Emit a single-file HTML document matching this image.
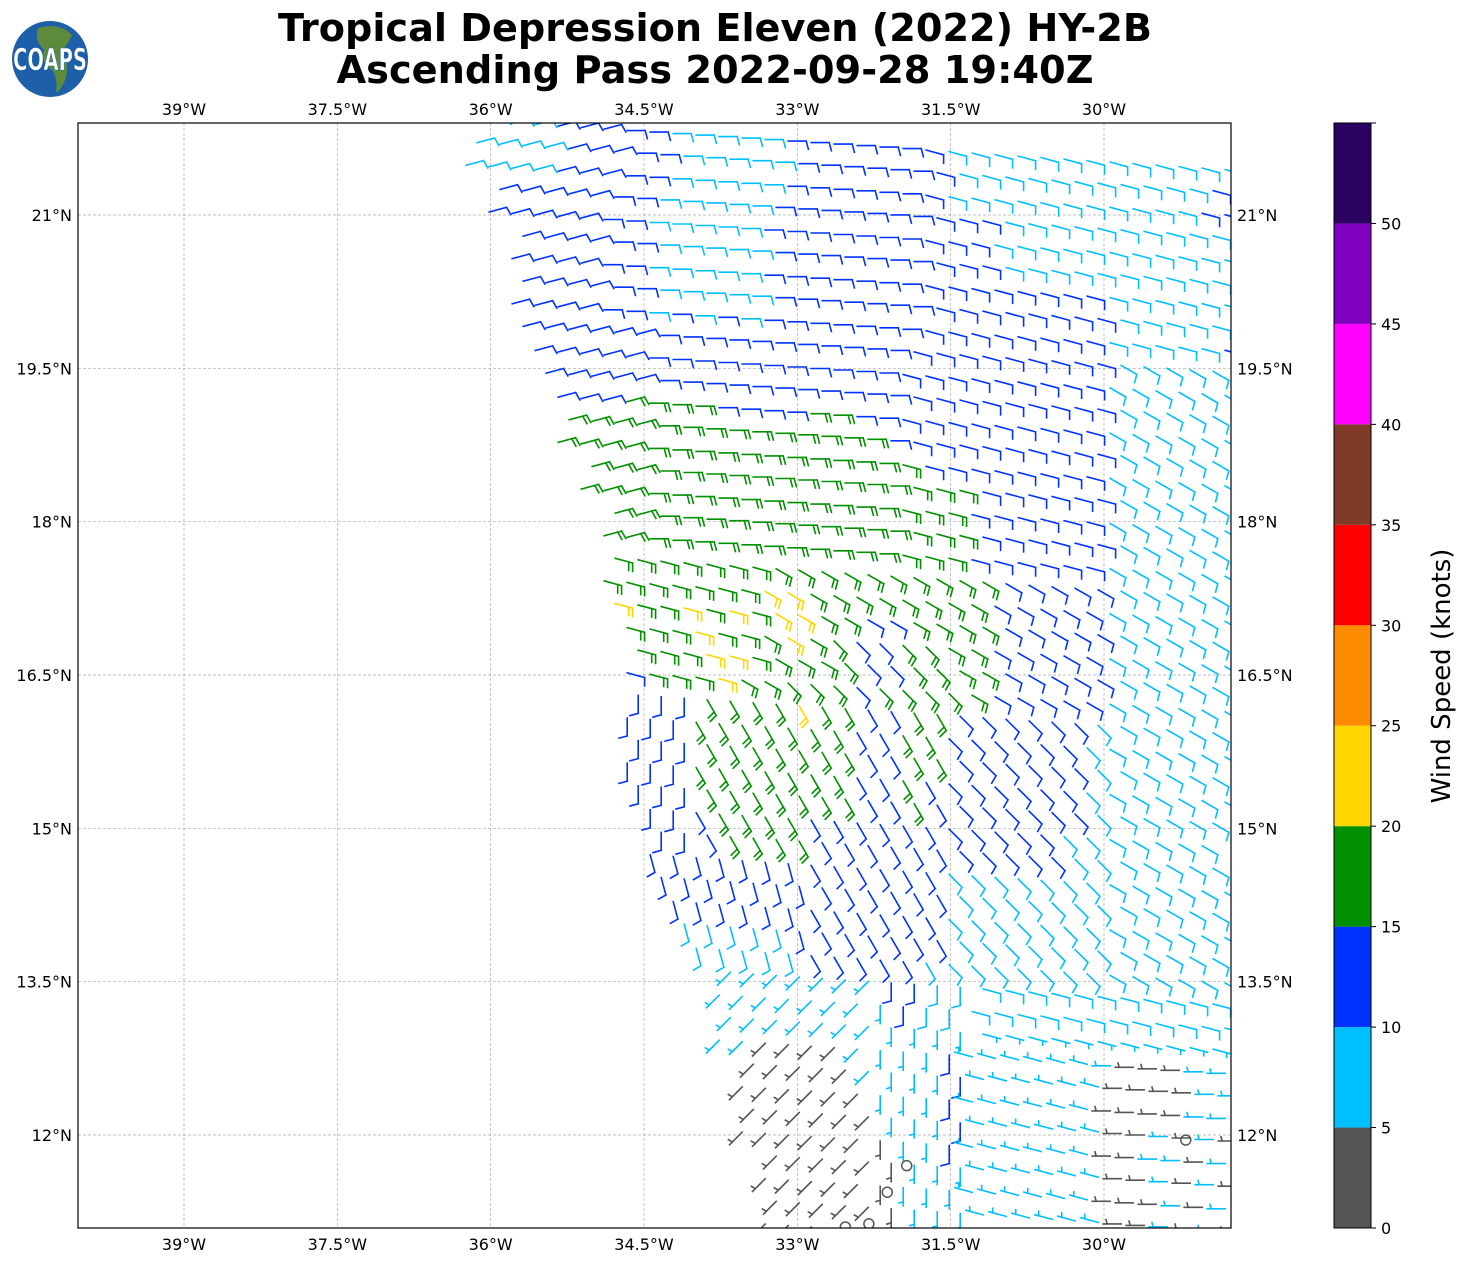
<!DOCTYPE html>
<html><head><meta charset="utf-8"><style>
html,body{margin:0;padding:0;background:#fff;}
svg{display:block;font-family:"DejaVu Sans","Liberation Sans",sans-serif;}
</style></head><body>
<svg id="chart" width="1471" height="1264" viewBox="0 0 1471 1264">
<defs><clipPath id="plotclip"><rect x="78" y="123" width="1153" height="1105"/></clipPath></defs>
<g>
<circle cx="50" cy="59" r="38" fill="#1d5fa8"/>
<path d="M38 28 Q60 22 72 35 Q66 48 60 52 Q70 62 66 78 Q60 92 56 92 Q58 78 52 70 Q40 62 44 50 Q34 40 38 28Z" fill="#5e8a3c"/>
<text x="50" y="70" text-anchor="middle" font-size="30" font-weight="bold" fill="#fff" stroke="#1d5fa8" stroke-width="0.6" textLength="74" lengthAdjust="spacingAndGlyphs">COAPS</text>
</g>
<text x="715" y="41" text-anchor="middle" font-size="38" font-weight="bold" textLength="874" lengthAdjust="spacingAndGlyphs">Tropical Depression Eleven (2022) HY-2B</text>
<text x="715" y="83" text-anchor="middle" font-size="38" font-weight="bold" textLength="757" lengthAdjust="spacingAndGlyphs">Ascending Pass 2022-09-28 19:40Z</text>
<g id="grid"></g>
<g id="barbs" clip-path="url(#plotclip)"></g>
<rect x="78" y="123" width="1153" height="1105" fill="none" stroke="#000" stroke-width="1.2"/>
<g id="cbar"></g>
<text transform="translate(1450,676) rotate(-90)" text-anchor="middle" font-size="26">Wind Speed (knots)</text>
</svg>
<script>
const lonTicks = [-39, -37.5, -36, -34.5, -33, -31.5, -30];
const lonLabels = ["39°W","37.5°W","36°W","34.5°W","33°W","31.5°W","30°W"];
const latTicks = [21, 19.5, 18, 16.5, 15, 13.5, 12];
const latLabels = ["21°N","19.5°N","18°N","16.5°N","15°N","13.5°N","12°N"];
const cbarBounds = [0,5,10,15,20,25,30,35,40,45,50,55];
const cbarColors = ["#555555","#00bfff","#0033ff","#009000","#ffd700","#ff8c00","#ff0000","#7f3a28","#ff00ff","#8000c0","#2a0060"];
const cbarTicks = [0,5,10,15,20,25,30,35,40,45,50];
const gridLonStart = -36.2, gridLonStep = 0.225;
const gridLatStart = 21.85, gridLatStep = 0.221;
const speedByChar = {"0":3,"5":6,"1":9,"2":12,"3":18,"4":22};
const speedRows = [
"1111222221111122222221111111111111",
"1111222221111122222221111111111122",
"1111222221111122222221111111111122",
".222222211111222222222211111111111",
".222222211111222222222211111111111",
"..22222211111222222222211111111111",
"..22222211111222222222222222111111",
"..22222211111222222222222222111111",
"..22222212121222222222222222111112",
"..22222222222222222222222222111111",
"...2222222222222222222222222111111",
"...2222222222222222222222222111111",
"....222333322223322222222222111111",
"....333333333333332222222222111111",
"....333333333333333322222222111111",
".....33333333333333333222222111111",
".....33333333333333333222222111111",
"......3333333333333333222222111111",
"......3333333333333333222222111111",
"......3333333333333333322222111111",
"......3333333443333333322222111111",
"......4334343443322333322222111111",
".......333433343322333322222111111",
".......333443333322333322222111111",
".......233343333323333322222111111",
".......222333343322332222221111111",
".......222333333322332222221111111",
".......222333333322332222221111111",
".......222333333322322222221111111",
".......222333333322322222221111111",
"........2223333222222222221111111",
"........22233332222222222211111111",
"........22222222222221111111111111",
"........22222222222221111111111111",
".........2222222222221111111111111",
".........1111122222221111111111111",
"..........111112222211111111111111",
"...........555555522111111111111111",
"...........555555552111111111111111",
"...........55555555555555555555555",
"...........55000055552555555500055",
"............0000055552555555000055",
"............0000005552555555000055",
"............0000005552555555005050",
"............0000000552555555005505",
".............000000555555555005050",
".............000000555555555000505",
".............000000555555555005050",
".............000000555555555000505"
];
const dirRows = [
"xxxxxxxaaaaaaaaaaaaabbbbbbbbbbbbbb",
"xxxxxxxaaaaaaaaaaaaabbbbbbbbbbbbbb",
"xxxxxxxaaaaaaaaaaaaabbbbbbbbbbbbbb",
"xxxxxxaaaaaaaaaaaaaabbbbbbbbbbbbbb",
"xxxxxxaaaaaaaaaaaaaabbbbbbbbbbbbbb",
"xxxxxxaaaaaaaaaaaaaabbbbbbbbbbbbbb",
"xxxxxxaaaaaaaaaaaaaabbbbbbbbbbbbbb",
"xxxxxxaaaaaaaaaaaaaabbbbbbbbbbbbbb",
"xxxxxxaaaaaaaaaaaaaabbbbbbbbbbbbbb",
"xxxxxxxxaaaaaaaaaaabbbbbbbbbcccccc",
"xxxxxxxxaaaaaaaaaaabbbbbbbbbcccccc",
"xxxxxxxxaaaaaaaaaaabbbbbbbbbcccccc",
"xxxxxxxxaaaaaaaaaaabbbbbbbbbcccccc",
"xxxxxxxxaaaaaaaaaaabbbbbbbbbcccccc",
"xxxxxxxxaaaaaaaaaaabbbbbbbbbcccccc",
"xxxxxxxxaaaaaaaaaaabbbbbbbbbcccccc",
"xxxxxxxxaaaaaaaaaaabbbbbbbbbcccccc",
"xxxxxxxxaaaaaaaaaaabbbbbbbbbcccccc",
"xxxxxxxxaaaaaaaaaaabbbbbbbbbcccccc",
"bbbbbbbbbbbbbccccccccccccccccccccc",
"bbbbbbbbbbbbbccccccccccccccccccccc",
"bbbbbbbbbbbbbccccccccccccccccccccc",
"bbbbbbbbbbbbbcccdddddccccccccccccc",
"bbbbbbbbbbbbbcccdddddccccccccccccc",
"bbbbbbbbbbbbccddddddddcccccccccccc",
"ggggggggggeeeeeeeeeeedddddddcccccc",
"ggggggggggeeeeeeeeeeedddddddcccccc",
"ggggggggggeeeeeeeeeeedddddddcccccc",
"ggggggggggeeeeeeeeeeedddddddcccccc",
"ggggggggggeeeeeeeeeeedddddddcccccc",
"ggggggggggeeeeeeeeeeedddddddcccccc",
"ggggggggggeeeeeeeeeeedddddddcccccc",
"fffffffffffffffeeeeeedddddddcccccc",
"fffffffffffffffeeeeeedddddddcccccc",
"fffffffffffffffeeeeeedddddddcccccc",
"fffffffffffffffeeeeeedddddddcccccc",
"fffffffffffffffeeeeeedddddddcccccc",
"jjjjjjjjjjjjjjjjjjggggbbbbbbbbbbbb",
"jjjjjjjjjjjjjjjjjjggggbbbbbbbbbbbb",
"jjjjjjjjjjjjjjjjjjggggbbbbbbbbbbbb",
"jjjjjjjjjjjjjjjjjjggggnnnnnnmmmmmm",
"jjjjjjjjjjjjjjjjjjggggnnnnnnmmmmmm",
"jjjjjjjjjjjjjjjjjjggggnnnnnnmmmmmm",
"jjjjjjjjjjjjjjjjjjggggnnnnnnmmmmmm",
"jjjjjjjjjjjjjjjjjjggggnnnnnnmmmmmm",
"jjjjjjjjjjjjjjjjjjggggnnnnnnmmmmmm",
"jjjjjjjjjjjjjjjjjjggggnnnnnnmmmmmm",
"jjjjjjjjjjjjjjjjjjggggnnnnnnmmmmmm",
"jjjjjjjjjjjjjjjjjjggggnnnnnnmmmmmm"
];
const calmLons = [-31.93, -32.12, -32.3, -32.53, -29.2];
const calmLats = [11.7, 11.44, 11.13, 11.1, 11.95];

const NS = "http://www.w3.org/2000/svg";
function xOf(lon){ return 184 + (lon + 39) * (920/9); }
function yOf(lat){ return 1135 - (lat - 12) * (920/9); }
function sy(v){ return 1228 - (v - cbarBounds[0]) / (cbarBounds[cbarBounds.length-1] - cbarBounds[0]) * 1105; }
function colorFor(s){ for (let i=0;i<cbarColors.length;i++){ if (s < cbarBounds[i+1]) return cbarColors[i]; } return cbarColors[cbarColors.length-1]; }
function mk(tag, attrs){ const e=document.createElementNS(NS,tag); for (const k in attrs) e.setAttribute(k, attrs[k]); return e; }

const gridG = document.getElementById("grid");
lonTicks.forEach((lon,i)=>{
  const x = xOf(lon);
  const l = mk("line",{x1:x,y1:123,x2:x,y2:1228,stroke:"#aaa","stroke-width":0.7,"stroke-dasharray":"3,2"});
  
  
  gridG.appendChild(l);
  [115,1250].forEach(yy=>{
    const t = mk("text",{x:x,y:yy,"text-anchor":"middle","font-size":16});
    t.textContent = lonLabels[i];
    
    
    gridG.appendChild(t);
  });
});
latTicks.forEach((lat,i)=>{
  const y = yOf(lat);
  const l = mk("line",{x1:78,y1:y,x2:1231,y2:y,stroke:"#aaa","stroke-width":0.7,"stroke-dasharray":"3,2"});
  
  
  gridG.appendChild(l);
  const t1 = mk("text",{x:72,y:y+6,"text-anchor":"end","font-size":16});
  t1.textContent = latLabels[i];
  
  
  gridG.appendChild(t1);
  const t2 = mk("text",{x:1237,y:y+6,"text-anchor":"start","font-size":16});
  t2.textContent = latLabels[i];
  
  
  gridG.appendChild(t2);
});

const barbG = document.getElementById("barbs");
const L = 18, FB = 8.5, HB = 4.5, SP = 4;
speedRows.forEach((row,r)=>{
  for (let c=0;c<row.length;c++){
    const ch = row[c];
    if (!(ch in speedByChar)) continue;
    const spd = speedByChar[ch];
    const dch = (dirRows[r]||"")[c] || "a";
    const ang = (dch.charCodeAt(0) - 97) * 15 * Math.PI/180;
    const x0 = xOf(gridLonStart + c*gridLonStep) + (r%2)*11 - 4;
    const y0 = yOf(gridLatStart - r*gridLatStep) + c*1.5 - 8;
    const ux = Math.cos(ang), uy = Math.sin(ang);
    const ba = ang + 75*Math.PI/180, bx = Math.cos(ba), by = Math.sin(ba);
    const tx = x0 + ux*L, ty = y0 + uy*L;
    let d = "M" + x0.toFixed(1) + " " + y0.toFixed(1) + "L" + tx.toFixed(1) + " " + ty.toFixed(1);
    const r5 = Math.round(spd/5)*5;
    const nf = Math.floor(r5/10), nh = (r5 % 10) ? 1 : 0;
    let pos = 0;
    if (nf === 0 && nh) pos = SP;
    for (let k=0;k<nf;k++){
      const px = tx - ux*pos, py = ty - uy*pos;
      d += "M" + px.toFixed(1) + " " + py.toFixed(1) + "l" + (bx*FB).toFixed(1) + " " + (by*FB).toFixed(1);
      pos += SP;
    }
    if (nh){
      const px = tx - ux*pos, py = ty - uy*pos;
      d += "M" + px.toFixed(1) + " " + py.toFixed(1) + "l" + (bx*HB).toFixed(1) + " " + (by*HB).toFixed(1);
    }
    const p = mk("path",{d:d,stroke:colorFor(spd),"stroke-width":1.6,fill:"none","stroke-linecap":"square"});
    
    
    barbG.appendChild(p);
  }
});
calmLons.forEach((lon,i)=>{
  const cc = mk("circle",{cx:xOf(lon),cy:yOf(calmLats[i]),r:5,fill:"none",stroke:"#555","stroke-width":1.5});
  
  
  barbG.appendChild(cc);
});

const cbarG = document.getElementById("cbar");
cbarColors.forEach((col,i)=>{
  const y1 = sy(cbarBounds[i+1]), y2 = sy(cbarBounds[i]);
  const rc = mk("rect",{x:1334,y:y1,width:37,height:y2-y1,fill:col});
  
  
  cbarG.appendChild(rc);
});
const cbFrame = mk("rect",{x:1334,y:123,width:37,height:1105,fill:"none",stroke:"#000","stroke-width":1});


cbarG.appendChild(cbFrame);
cbarTicks.forEach(v=>{
  const y = sy(v);
  const tk = mk("line",{x1:1371,y1:y,x2:1376,y2:y,stroke:"#000","stroke-width":1});
  
  
  cbarG.appendChild(tk);
  const t = mk("text",{x:1381,y:y+6,"font-size":16});
  t.textContent = v;
  
  
  cbarG.appendChild(t);
});
const cbTopTick = mk("line",{x1:1371,y1:123,x2:1376,y2:123,stroke:"#000","stroke-width":1});


cbarG.appendChild(cbTopTick);
</script>
</body></html>
